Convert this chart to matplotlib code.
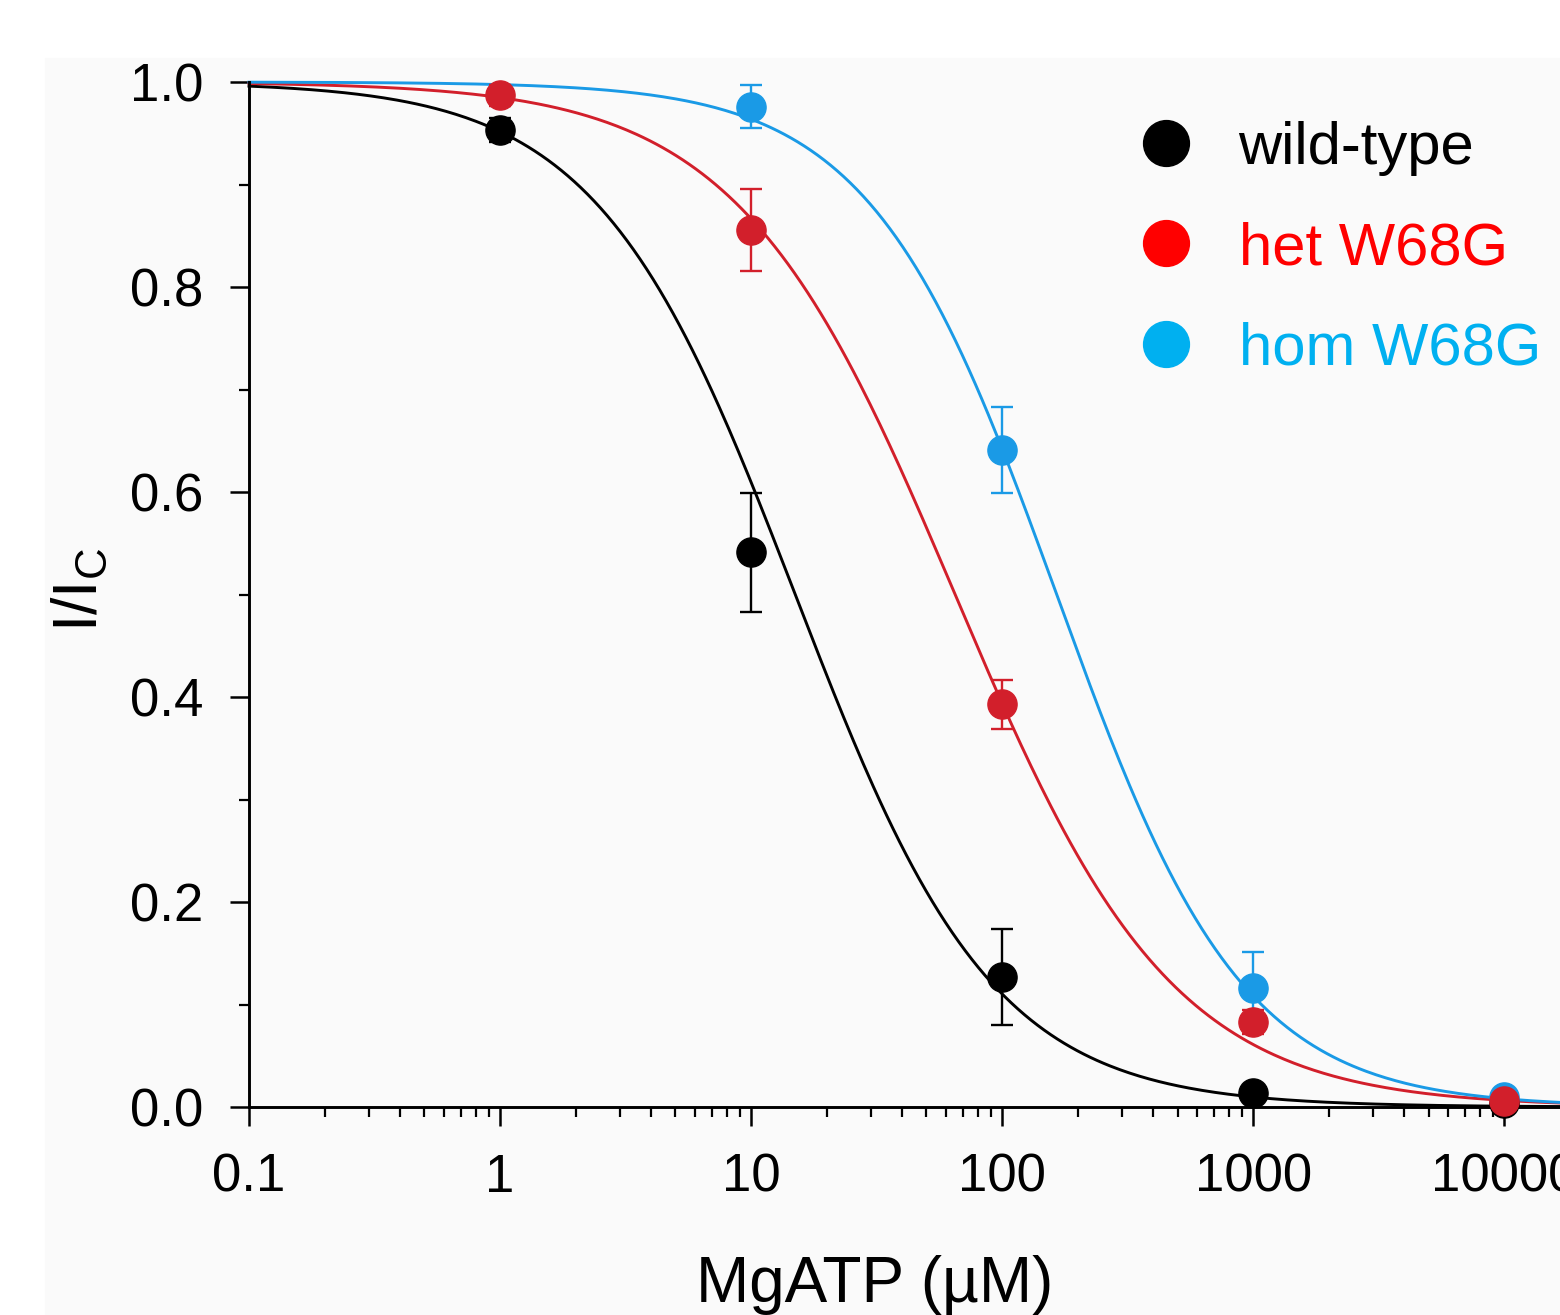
import numpy as np
import matplotlib
matplotlib.use("Agg")
import matplotlib.pyplot as plt
from matplotlib.patches import Rectangle
from matplotlib.lines import Line2D
from matplotlib.ticker import FixedLocator, LogLocator, NullFormatter

plt.rcParams['font.family'] = ['Liberation Sans', 'DejaVu Sans']

# measured points (MgATP concentration in uM)
conc = [1, 10, 100, 1000, 10000]

wt_mean = [0.953, 0.541, 0.127, 0.014, 0.004]
wt_err = [0.012, 0.058, 0.047, 0.004, 0.002]

het_mean = [0.987, 0.856, 0.393, 0.083, 0.006]
het_err = [0.010, 0.040, 0.024, 0.012, 0.003]

hom_conc = [10, 100, 1000, 10000]
hom_mean = [0.976, 0.641, 0.116, 0.010]
hom_err = [0.021, 0.042, 0.035, 0.004]

# Hill fit parameters (IC50 in uM, Hill coefficient)
ic50 = [15.0, 65.0, 165.0]
hill = [1.10, 1.00, 1.17]

labels = ['wild-type', 'het W68G', 'hom W68G']
point_colors = ['#000000', '#d21f2b', '#1a9ae6']
legend_colors = ['#000000', '#ff0000', '#00b0f0']

fig = plt.figure(figsize=(15.6, 13.15), dpi=100)
# light grey panel behind the plot
fig.patches.append(Rectangle((45 / 1560, 0), 1, 1 - 58 / 1315, transform=fig.transFigure,
                             color='#fafafa', zorder=-10))
ax = fig.add_axes([249 / 1560, 208 / 1315, 1 - 249 / 1560, 1 - 82 / 1315 - 208 / 1315])
ax.set_facecolor('none')

xfit = np.logspace(-1, np.log10(16700), 400)
for k in range(3):
    yfit = 1 / (1 + (xfit / ic50[k]) ** hill[k])
    ax.plot(xfit, yfit, color=point_colors[k], lw=2.1, zorder=2, clip_on=False)

ax.errorbar(conc, wt_mean, yerr=wt_err, fmt='o', ms=21, color=point_colors[0],
            elinewidth=1.7, capsize=8, capthick=1.7, zorder=3, clip_on=False)
ax.errorbar(hom_conc, hom_mean, yerr=hom_err, fmt='o', ms=21, color=point_colors[2],
            elinewidth=1.7, capsize=8, capthick=1.7, zorder=4, clip_on=False)
ax.errorbar(conc, het_mean, yerr=het_err, fmt='o', ms=21, color=point_colors[1],
            elinewidth=1.7, capsize=8, capthick=1.7, zorder=5, clip_on=False)

ax.set_xscale('log')
ax.set_xlim(0.1, 16700)
ax.set_ylim(0, 1.0)

ax.xaxis.set_major_locator(FixedLocator([0.1, 1, 10, 100, 1000, 10000]))
ax.set_xticklabels(['0.1', '1', '10', '100', '1000', '10000'])
ax.xaxis.set_minor_locator(LogLocator(base=10, subs=np.arange(2, 10), numticks=20))
ax.xaxis.set_minor_formatter(NullFormatter())
ax.set_yticks([0, 0.2, 0.4, 0.6, 0.8, 1.0])
ax.set_yticklabels(['0.0', '0.2', '0.4', '0.6', '0.8', '1.0'])
ax.set_yticks([0.1, 0.3, 0.5, 0.7, 0.9], minor=True)

ax.tick_params(which='major', direction='out', length=14, width=1.8, labelsize=38, pad=19)
ax.tick_params(which='minor', direction='out', length=7, width=1.6)

for side in ['top', 'right']:
    ax.spines[side].set_visible(False)
for side in ['left', 'bottom']:
    ax.spines[side].set_linewidth(2.1)

fig.text(875 / 1560, 13 / 1315, 'MgATP (\u00b5M)', ha='center', va='baseline', fontsize=46)
fig.text(80 / 1560, 1 - 590 / 1315, r'I/I$_\mathregular{C}$', rotation=90,
         ha='center', va='center', fontsize=45)

handles = [Line2D([], [], marker='o', ls='none', ms=33, color=c) for c in legend_colors]
leg = ax.legend(handles, labels, loc='upper left', bbox_to_anchor=(1106 / 1560, 1 - 91 / 1315),
                bbox_transform=fig.transFigure, frameon=False, fontsize=43,
                labelcolor=legend_colors, handletextpad=0.72, labelspacing=0.76,
                borderpad=0, handlelength=1.0)

fig.savefig('out.png', dpi=100)
